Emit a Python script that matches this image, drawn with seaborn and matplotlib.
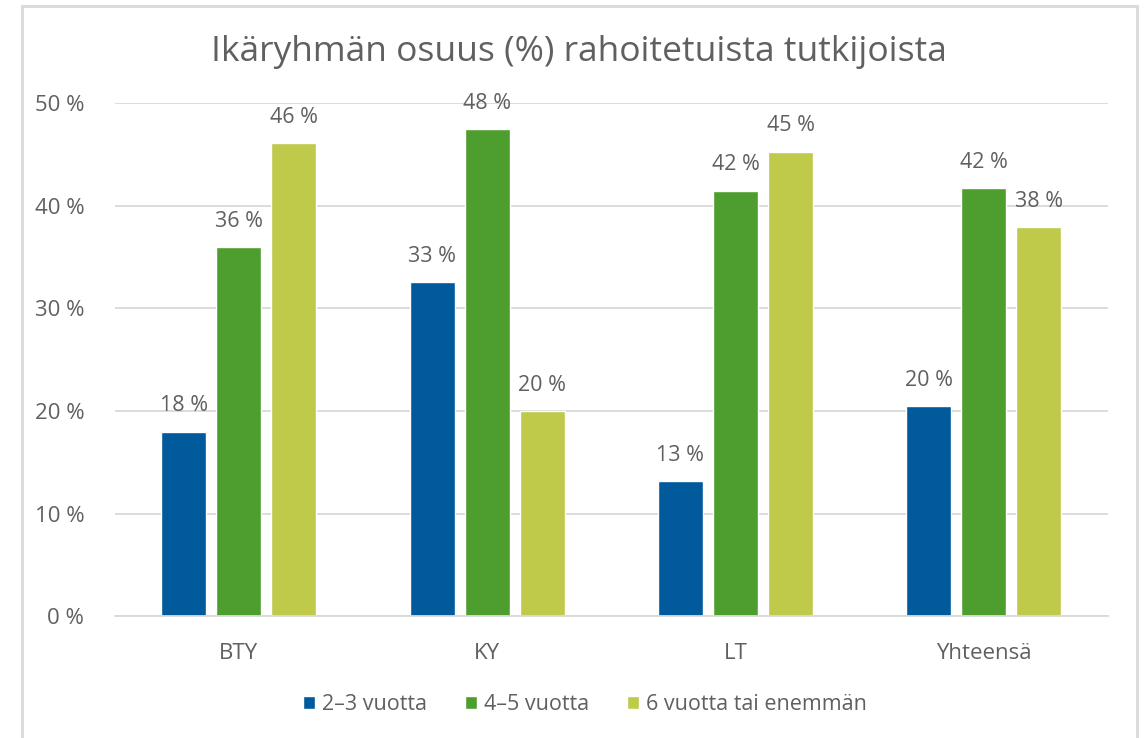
import pandas as pd
import matplotlib.pyplot as plt
import matplotlib.patches as mpatches
import seaborn as sns

groups = ["BTY", "KY", "LT", "Yhteensä"]
ages = ["2–3 vuotta", "4–5 vuotta", "6 vuotta tai enemmän"]
v_23 = [18.0, 32.6, 13.2, 20.5]
v_45 = [36.0, 47.5, 41.5, 41.7]
v_6 = [46.1, 20.0, 45.3, 37.9]
colors = ["#005A9C", "#4E9E2F", "#BFC94A"]

rows = []
for a, vals in zip(ages, [v_23, v_45, v_6]):
    for g, v in zip(groups, vals):
        rows.append({"ryhma": g, "ika": a, "osuus": v})
df = pd.DataFrame(rows)

sns.set_style("white")
plt.rcParams['font.family'] = ['Open Sans', 'DejaVu Sans']
txt = "#606060"

fig = plt.figure(figsize=(11.47, 7.38), dpi=100)
ax = fig.add_axes([0.100, 0.165, 0.866, 0.695])
sns.barplot(data=df, x="ryhma", y="osuus", hue="ika", palette=colors,
            saturation=1, width=0.665, gap=0.18, ax=ax, legend=True)

for cont in ax.containers:
    ax.bar_label(cont, labels=[f"{round(b.get_height()):.0f} %" for b in cont],
                 padding=11, fontsize=15.5, color=txt)

ax.set_ylim(0, 50)
ax.set_xlim(-0.5, 3.5)
ax.set_yticks(range(0, 51, 10))
ax.set_yticklabels([f"{t} %" for t in range(0, 51, 10)])
ax.yaxis.grid(True, color="#d9d9d9", linewidth=1.3)
ax.set_axisbelow(True)
for s in ["top", "right", "left"]:
    ax.spines[s].set_visible(False)
ax.spines["bottom"].set_color("#d9d9d9")
ax.spines["bottom"].set_linewidth(1.3)
ax.tick_params(axis="both", length=0, labelsize=16, colors=txt)
ax.tick_params(axis="y", pad=22)
ax.tick_params(axis="x", pad=19)
ax.set_xlabel("")
ax.set_ylabel("")

fig.text(0.505, 0.930, "Ikäryhmän osuus (%) rahoitetuista tutkijoista",
         ha="center", va="center", fontsize=25.5, color=txt)

handles, labels = ax.get_legend_handles_labels()
ax.legend(handles, labels, loc="center", bbox_to_anchor=(0.51, 0.045),
          bbox_transform=fig.transFigure, ncol=3, frameon=False,
          fontsize=15.5, labelcolor=txt, handlelength=0.55, handleheight=0.55,
          handletextpad=0.3, columnspacing=1.8)

fig.patches.append(mpatches.Rectangle((22 / 1147, -0.05), 1115 / 1147, 1.0 - 6 / 738 + 0.05,
                                      transform=fig.transFigure, fill=False,
                                      edgecolor="#d9d9d9", linewidth=2))

fig.savefig("out.png", dpi=100, facecolor="white")
